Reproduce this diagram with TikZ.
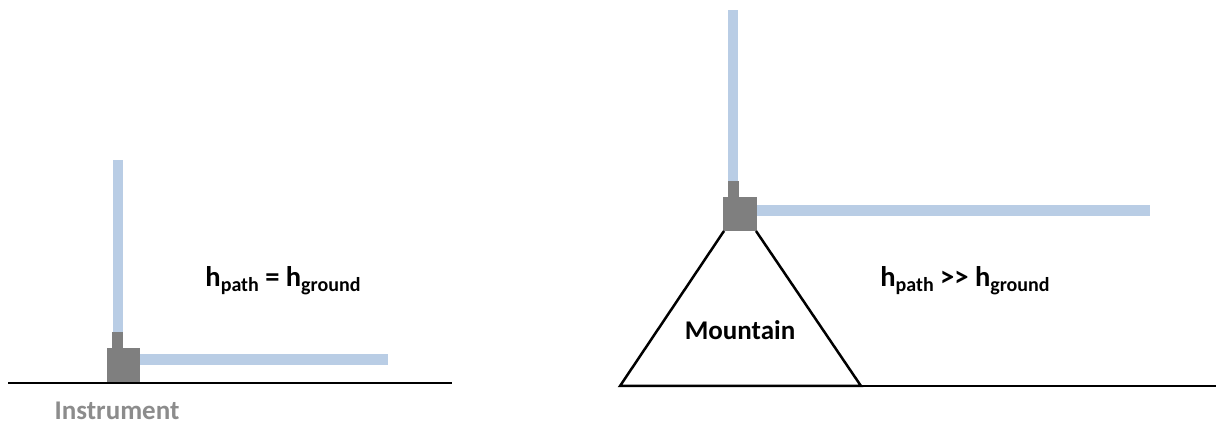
\documentclass[tikz,border=0pt]{standalone}
\usepackage{fontspec}
\setmainfont{Carlito}
\definecolor{pathblue}{HTML}{B9CDE5}
\definecolor{instgray}{HTML}{7F7F7F}
\definecolor{labgray}{HTML}{8C8C8C}
\newcommand{\lowsub}[1]{\raisebox{-5pt}{\fontsize{20}{22}\selectfont #1}}
\begin{document}
\begin{tikzpicture}[x=1pt,y=-1pt,
  beam/.style={fill=pathblue,draw=none},
  inst/.style={fill=instgray,draw=none},
  ground/.style={draw=black,line width=2.5pt},
  lab/.style={font=\bfseries\fontsize{28.5}{30}\selectfont,inner sep=0pt}]
\useasboundingbox (0,0) rectangle (1224,427);
% left scene
\fill[beam] (113,160) rectangle (123,334);
\fill[beam] (140,354) rectangle (388,365);
\fill[inst] (112,332) rectangle (123,349);
\fill[inst] (107,348) rectangle (140,383);
\coordinate (gl1) at (8,383);
\coordinate (gl2) at (452,383);
\draw[ground] (gl1) -- (gl2);
\node[lab,anchor=base] (eq1) at (283,287) {h\lowsub{path} = h\lowsub{ground}};
\node[inner sep=0pt,font=\bfseries\fontsize{27}{30}\selectfont,text=labgray,anchor=base] (instr) at (117,420) {Instrument};
% right scene
\fill[beam] (728,10) rectangle (738,183);
\fill[beam] (756,205) rectangle (1150,216);
\fill[inst] (728,181) rectangle (739,198);
\fill[inst] (723,197) rectangle (757,231);
\coordinate (ml) at (724,231);
\coordinate (mr) at (756,231);
\coordinate (bl) at (620,386);
\coordinate (br) at (861,386);
\coordinate (ge) at (1216,386);
\draw[ground,line join=miter] (ml) -- (bl) -- (br) -- (mr);
\draw[ground] (br) -- (ge);
\node[lab,anchor=base] (eq2) at (965,287) {h\lowsub{path} {>}{>} h\lowsub{ground}};
\node[inner sep=0pt,font=\bfseries\fontsize{27}{30}\selectfont,anchor=base] (mtn) at (740,340) {Mountain};
\end{tikzpicture}
\end{document}
